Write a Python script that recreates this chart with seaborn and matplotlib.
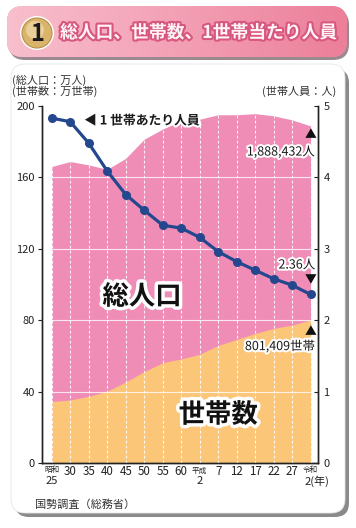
import numpy as np
import pandas as pd
import matplotlib
matplotlib.use("Agg")
import matplotlib.pyplot as plt
import matplotlib.patheffects as pe
from matplotlib.patches import FancyBboxPatch, Circle
from matplotlib.colors import LinearSegmentedColormap
import seaborn as sns

# ---- data ----
years = ["昭和25", "30", "35", "40", "45", "50", "55", "60", "平成2", "7", "12", "17", "22", "27", "令和2"]
population = [166.1, 168.9, 167.0, 164.5, 170.7, 181.4, 187.1, 191.7, 192.6, 195.1, 195.1, 195.7, 194.5, 192.2, 188.8]  # 万人
households = [34.4, 35.3, 37.3, 40.2, 45.4, 51.2, 56.2, 58.3, 60.9, 65.9, 69.2, 72.6, 75.4, 77.3, 80.1]  # 万世帯
persons_per_household = [4.83, 4.78, 4.48, 4.09, 3.76, 3.54, 3.33, 3.29, 3.16, 2.96, 2.82, 2.70, 2.58, 2.49, 2.36]
left_ticks = [0, 40, 80, 120, 160, 200]
right_ticks = [0, 1, 2, 3, 4, 5]

df = pd.DataFrame({"idx": np.arange(len(years)), "year": years, "pop": population,
                   "hh": households, "pph": persons_per_household})

sns.set_theme(style="white")
plt.rcParams['font.family'] = ['Noto Sans CJK JP', 'DejaVu Sans']

PINK = "#EF8DB7"
ORANGE = "#FCC679"
NAVY = "#24478E"

W, H = 356, 528
fig = plt.figure(figsize=(W / 100, H / 100), dpi=100)
fig.patch.set_facecolor("white")

# background axes in pixel coordinates
bg = fig.add_axes([0, 0, 1, 1], zorder=0)
bg.set_xlim(0, W)
bg.set_ylim(H, 0)
bg.axis("off")

# card shadow + card
bg.add_patch(FancyBboxPatch((15, 69), 334, 448, boxstyle="round,pad=0,rounding_size=14",
                            facecolor="#8a8a8a", edgecolor="none"))
bg.add_patch(FancyBboxPatch((11, 64), 334, 449, boxstyle="round,pad=0,rounding_size=14",
                            facecolor="white", edgecolor="#e6e6e6", linewidth=0.6))

# title banner shadow + banner
bg.add_patch(FancyBboxPatch((9, 9), 340, 51, boxstyle="round,pad=0,rounding_size=16",
                            facecolor="#9a8a90", edgecolor="none"))
banner = FancyBboxPatch((7, 6), 340, 51, boxstyle="round,pad=0,rounding_size=16",
                        facecolor="#F29AB0", edgecolor="none")
bg.add_patch(banner)
grad = np.linspace(0, 1, 256).reshape(1, -1)
cmap = LinearSegmentedColormap.from_list("bn", ["#F8BFCD", "#F3A0B5", "#EC7F9A"])
im = bg.imshow(grad, extent=(7, 347, 57, 6), cmap=cmap, aspect="auto", zorder=1)
im.set_clip_path(banner)

# circle with "1"
bg.add_patch(Circle((37, 33), 17, facecolor="white", edgecolor="none", zorder=2))
bg.add_patch(Circle((37, 33), 15, facecolor="#D9B46A", edgecolor="#B8904A", linewidth=0.8, zorder=3))
bg.add_patch(Circle((35, 30), 9, facecolor="#F4E3B8", edgecolor="none", alpha=0.6, zorder=3))
bg.text(37, 34, "1", ha="center", va="center", fontsize=17, fontweight="bold", color="#1a1a1a", zorder=4)
bg.text(60, 33, "総人口、世帯数、1世帯当たり人員", ha="left", va="center", fontsize=12.8,
        fontweight="bold", color="#FFF4F7", zorder=4,
        path_effects=[pe.withStroke(linewidth=3, foreground="#D8577E")])

# unit labels
bg.text(12, 80, "(総人口：万人)", ha="left", va="center", fontsize=8, color="#333333", zorder=4)
bg.text(12, 91, "(世帯数：万世帯)", ha="left", va="center", fontsize=8, color="#333333", zorder=4)
bg.text(336, 91, "(世帯人員：人)", ha="right", va="center", fontsize=8, color="#333333", zorder=4)
bg.text(35, 505, "国勢調査（総務省）", ha="left", va="center", fontsize=8, color="#333333", zorder=4)

# ---- main axes ----
x0, x1 = 42, 318
ytop, ybot = 106, 463
ax = fig.add_axes([x0 / W, 1 - ybot / H, (x1 - x0) / W, (ybot - ytop) / H], zorder=2)
ax.set_facecolor("white")
step = (310.7 - 51.7) / 14
ax.set_xlim(-(51.7 - x0) / step, 14 + (x1 - 310.7) / step)
ax.set_ylim(0, 200)

ax.fill_between(df["idx"], 0, df["pop"], color=PINK, linewidth=0, zorder=1)
ax.fill_between(df["idx"], 0, df["hh"], color=ORANGE, linewidth=0, zorder=2)

for i in df["idx"]:
    ax.axvline(i, ymin=0, ymax=df["pop"][i] / 200, color="white", lw=0.8,
               ls=(0, (2.5, 2)), alpha=0.9, zorder=3)
for t in left_ticks[1:-1]:
    ax.axhline(t, color="white", lw=0.8, alpha=0.8, zorder=3)

ax.set_yticks(left_ticks)
ax.set_yticklabels([str(t) for t in left_ticks], fontsize=8, color="#222222")
ax.tick_params(axis="y", direction="out", length=3, width=0.8, color="#222222", pad=2)
ax.tick_params(axis="x", length=0)
ax.set_xticks(df["idx"])
ax.set_xticklabels([""] * len(years))
for s in ["left", "bottom", "right"]:
    ax.spines[s].set_color("#222222")
    ax.spines[s].set_linewidth(1.0)
ax.spines["top"].set_visible(False)

# x tick labels
lab_kw = dict(ha="center", va="center", color="#222222", transform=ax.get_xaxis_transform())
ylab = -0.024
for i, y in enumerate(years):
    if y.startswith("昭和") or y.startswith("平成") or y.startswith("令和"):
        era, num = y[:2], y[2:]
        ax.text(i, ylab + 0.003, era, fontsize=5.5, **lab_kw)
        if i == len(years) - 1:
            ax.text(i - 0.35, ylab - 0.027, num + "(年)", fontsize=8, ha="left", va="center",
                    color="#222222", transform=ax.get_xaxis_transform())
        else:
            ax.text(i, ylab - 0.027, num, fontsize=8, **lab_kw)
    else:
        ax.text(i, ylab, y, fontsize=8.3, **lab_kw)

# right axis: persons per household
ax2 = ax.twinx()
ax2.set_ylim(0, 5)
sns.lineplot(data=df, x="idx", y="pph", ax=ax2, color=NAVY, linewidth=2.3, marker="o",
             markersize=6.5, markeredgewidth=0, markerfacecolor=NAVY, zorder=5)
ax2.set_xlabel("")
ax2.set_ylabel("")
ax2.set_yticks(right_ticks)
ax2.set_yticklabels([str(t) for t in right_ticks], fontsize=8, color="#222222")
ax2.tick_params(axis="y", direction="in", length=3, width=0.8, color="#222222", pad=4)
for s in ["left", "bottom", "right"]:
    ax2.spines[s].set_color("#222222")
    ax2.spines[s].set_linewidth(1.0)
ax2.spines["top"].set_visible(False)
ax2.grid(False)
ax.grid(False)

# annotations
white_stroke = [pe.withStroke(linewidth=3, foreground="white")]
ax2.text(1.75, 191.6 / 40, "◀ 1 世帯あたり人員", ha="left", va="center", fontsize=9.2,
         fontweight="bold", color="#1a1a1a", zorder=6, path_effects=white_stroke)
ax2.text(14, 183.8 / 40, "▲", ha="center", va="center", fontsize=8.5, color="#111111", zorder=6)
ax2.text(14.25, 174.2 / 40, "1,888,432人", ha="right", va="center", fontsize=9,
         color="#1a1a1a", zorder=6, path_effects=white_stroke)
ax2.text(14.25, 110.9 / 40, "2.36人", ha="right", va="center", fontsize=9,
         color="#1a1a1a", zorder=6, path_effects=white_stroke)
ax2.text(14, 102.5 / 40, "▼", ha="center", va="center", fontsize=8.5, color="#111111", zorder=6)
ax2.text(14, 73.6 / 40, "▲", ha="center", va="center", fontsize=8.5, color="#111111", zorder=6)
ax2.text(14.25, 65.2 / 40, "801,409世帯", ha="right", va="center", fontsize=9,
         color="#1a1a1a", zorder=6, path_effects=white_stroke)

big_stroke = [pe.withStroke(linewidth=5, foreground="white")]
ax2.text(4.88, 93 / 40, "総人口", ha="center", va="center", fontsize=19, fontweight="bold",
         color="#111111", zorder=6, path_effects=big_stroke)
ax2.text(9.0, 26.9 / 40, "世帯数", ha="center", va="center", fontsize=19, fontweight="bold",
         color="#111111", zorder=6, path_effects=big_stroke)

fig.savefig("out.png", dpi=100, facecolor="white")
